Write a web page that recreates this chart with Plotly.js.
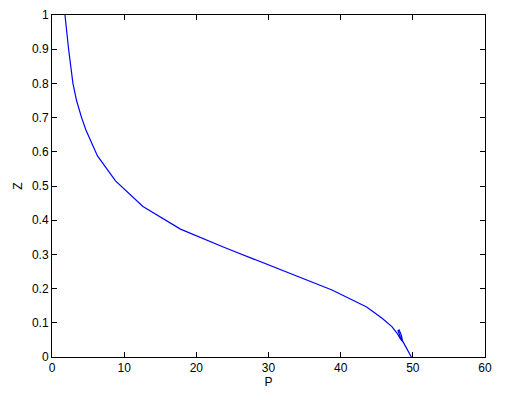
<!DOCTYPE html>
<html>
<head>
<meta charset="utf-8">
<script src="https://cdn.plot.ly/plotly-3.0.1.min.js"></script>
<style>
  html, body { margin: 0; padding: 0; background: #fff; }
  #plot { width: 522px; height: 404px; }
</style>
</head>
<body>
<div id="plot"></div>
<script>
// values
const P = [1.8, 2.0, 2.3, 2.9, 3.4, 4.1, 4.7, 6.3, 8.8, 12.6, 17.8, 23.9, 31.4, 38.8, 43.6, 45.7, 47.1,
           47.8, 48.3, 48.6, 48.4, 48.1, 47.95, 48.25, 48.7, 49.2, 49.8];
const Z = [1.0, 0.95, 0.9, 0.8, 0.75, 0.7, 0.664, 0.588, 0.515, 0.44, 0.374, 0.32, 0.257, 0.196, 0.146, 0.114, 0.089,
           0.07, 0.052, 0.045, 0.064, 0.079, 0.077, 0.06, 0.042, 0.022, 0.0];

const xTicks = [0, 10, 20, 30, 40, 50, 60];
const yTicks = [0, 0.1, 0.2, 0.3, 0.4, 0.5, 0.6, 0.7, 0.8, 0.9, 1];

const font = { family: "Liberation Sans, Arial, sans-serif", size: 12, color: "#000" };

const axis = (ticks, range, title, standoff) => ({
    range,
    tickvals: ticks,
    ticktext: ticks.map(String),
    ticks: "inside",
    ticklen: 5,
    tickcolor: "#000",
    mirror: "ticks",
    showline: true,
    linecolor: "#000",
    linewidth: 1,
    showgrid: false,
    zeroline: false,
    tickfont: font,
    title: { text: title, font, standoff }
});

Plotly.newPlot("plot", [{
    x: P,
    y: Z,
    mode: "lines",
    line: { color: "#0000ff", width: 1.2, shape: "linear" },
    hoverinfo: "x+y"
}], {
    width: 522,
    height: 404,
    margin: { l: 52, r: 37, t: 15, b: 47 },
    paper_bgcolor: "#fff",
    plot_bgcolor: "#fff",
    showlegend: false,
    xaxis: axis(xTicks, [0, 60], "P", 2),
    yaxis: axis(yTicks, [0, 1], "Z", 6)
}, { staticPlot: true });
</script>
</body>
</html>
